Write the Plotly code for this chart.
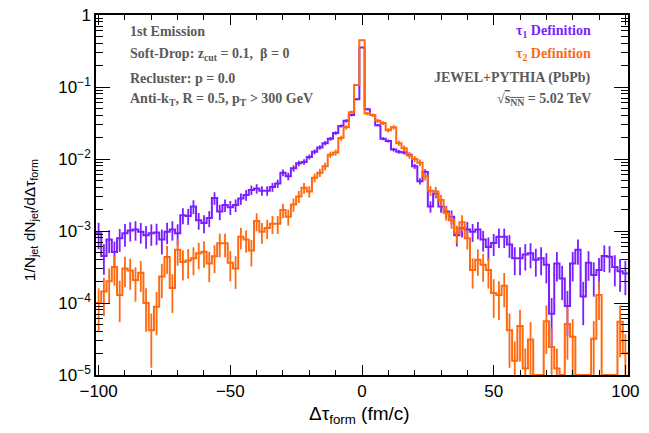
import plotly.graph_objects as go

# ---------------- data ----------------
bin_edges = list(range(-101, 102, 2))          # 101 bins of width 2 fm/c
bin_centers = list(range(-100, 101, 2))

tau1_values = [
    9.3e-4, 4.5e-4, 7.6e-4, 5.1e-4, 7.9e-4, 9.3e-4, 1.02e-3, 1.05e-3, 9.8e-4, 8.7e-4,
    9.3e-4, 9.5e-4, 7.6e-4, 9.8e-4, 1.05e-3, 9.3e-4, 1.66e-3, 1.62e-3, 2.19e-3, 1.41e-3,
    1.29e-3, 1.51e-3, 2.88e-3, 1.86e-3, 2.29e-3, 2.14e-3, 2.29e-3, 2.82e-3, 3.16e-3, 3.72e-3,
    3.89e-3, 3.63e-3, 3.63e-3, 4.07e-3, 4.57e-3, 6.46e-3, 5.75e-3, 7.41e-3, 8.71e-3, 9.12e-3,
    1.07e-2, 1.26e-2, 1.45e-2, 1.66e-2, 1.91e-2, 2.29e-2, 2.88e-2, 3.39e-2, 4.07e-2, 6.76e-2,
    0.355,
    4.90e-2, 4.07e-2, 2.95e-2, 1.91e-2, 1.78e-2, 1.35e-2, 1.26e-2, 1.23e-2, 1.15e-2, 7.9e-3,
    4.90e-3, 6.61e-3, 2.19e-3, 3.31e-3, 2.19e-3, 1.86e-3, 1.58e-3, 8.7e-4, 1.10e-3, 1.05e-3,
    9.8e-4, 1.05e-3, 7.6e-4, 6.0e-4, 6.8e-4, 8.3e-4, 8.3e-4, 6.5e-4, 4.2e-4, 4.2e-4,
    4.7e-4, 4.9e-4, 4.0e-4, 4.2e-4, 3.4e-4, 7.1e-5, 3.55e-4, 2.19e-4, 9.1e-5, 3.55e-4,
    5.5e-4, 1.23e-4, 3.63e-4, 2.45e-4, 2.88e-4, 4.5e-4, 4.4e-4, 3.16e-4, 2.75e-4, 2.57e-4,
]
tau1_relerr = [
    0.40, 0.45, 0.35, 0.40, 0.35, 0.35, 0.30, 0.30, 0.32, 0.35,
    0.33, 0.33, 0.38, 0.33, 0.30, 0.33, 0.25, 0.25, 0.22, 0.26,
    0.28, 0.25, 0.20, 0.24, 0.20, 0.22, 0.20, 0.18, 0.17, 0.15,
    0.15, 0.15, 0.15, 0.14, 0.13, 0.11, 0.12, 0.10, 0.09, 0.09,
    0.08, 0.08, 0.07, 0.07, 0.06, 0.06, 0.05, 0.05, 0.04, 0.03,
    0.015,
    0.03, 0.04, 0.04, 0.05, 0.05, 0.06, 0.06, 0.06, 0.07, 0.08,
    0.10, 0.09, 0.18, 0.14, 0.18, 0.20, 0.22, 0.30, 0.26, 0.27,
    0.28, 0.27, 0.32, 0.36, 0.34, 0.30, 0.30, 0.35, 0.42, 0.42,
    0.40, 0.38, 0.42, 0.42, 0.45, 0.65, 0.44, 0.50, 0.62, 0.44,
    0.38, 0.60, 0.44, 0.50, 0.47, 0.40, 0.40, 0.46, 0.48, 0.50,
]

tau2_values = [
    1.0e-4, 1.45e-4, 2.0e-4, 3.16e-4, 1.29e-4, 3.02e-4, 2.82e-4, 2.09e-4, 2.63e-4, 1.0e-4,
    4.2e-5, 8.9e-5, 2.34e-4, 4.37e-4, 1.62e-4, 5.5e-4, 3.72e-4, 3.89e-4, 4.17e-4, 4.90e-4,
    5.13e-4, 3.55e-4, 4.47e-4, 6.76e-4, 6.76e-4, 3.63e-4, 3.02e-4, 8.32e-4, 7.59e-4, 5.37e-4,
    1.38e-3, 9.8e-4, 1.10e-3, 1.26e-3, 1.26e-3, 1.95e-3, 1.58e-3, 2.34e-3, 3.02e-3, 3.98e-3,
    3.55e-3, 5.50e-3, 6.46e-3, 7.94e-3, 1.15e-2, 1.23e-2, 1.95e-2, 2.75e-2, 4.47e-2, 0.107,
    0.447,
    4.27e-2, 4.07e-2, 3.39e-2, 3.16e-2, 2.51e-2, 2.75e-2, 1.66e-2, 1.41e-2, 1.12e-2, 1.0e-2,
    8.9e-3, 5.75e-3, 3.63e-3, 3.55e-3, 2.69e-3, 1.78e-3, 1.41e-3, 9.3e-4, 1.32e-3, 7.9e-4,
    2.88e-4, 3.98e-4, 3.39e-4, 2.88e-4, 1.38e-4, 1.29e-4, 1.74e-4, 4.2e-5, 1.58e-5, 4.8e-5,
    1.23e-5, 3.1e-5, 0.0, 0.0, 5.6e-5, 2.45e-5, 1.23e-5, 0.0, 5.1e-5, 3.4e-5,
    0.0, 0.0, 0.0, 3.2e-5, 1.29e-4, 0.0, 0.0, 0.0, 5.5e-5, 2.0e-5,
]
tau2_relerr = [
    0.60, 0.55, 0.50, 0.45, 0.58, 0.45, 0.46, 0.50, 0.46, 0.60,
    0.70, 0.60, 0.50, 0.42, 0.55, 0.40, 0.45, 0.44, 0.42, 0.40,
    0.40, 0.45, 0.42, 0.36, 0.36, 0.45, 0.48, 0.33, 0.34, 0.40,
    0.28, 0.32, 0.30, 0.28, 0.28, 0.23, 0.25, 0.21, 0.19, 0.17,
    0.18, 0.14, 0.13, 0.12, 0.10, 0.10, 0.08, 0.07, 0.05, 0.03,
    0.012,
    0.05, 0.05, 0.06, 0.06, 0.07, 0.07, 0.08, 0.09, 0.10, 0.10,
    0.11, 0.13, 0.16, 0.16, 0.18, 0.22, 0.24, 0.28, 0.25, 0.30,
    0.45, 0.40, 0.42, 0.45, 0.55, 0.55, 0.50, 0.70, 0.85, 0.68,
    0.90, 0.75, 0.0, 0.0, 0.65, 0.80, 0.90, 0.0, 0.68, 0.75,
    0.0, 0.0, 0.0, 0.75, 0.55, 0.0, 0.0, 0.0, 0.68, 0.85,
]

y_tick_vals = [1e-5, 1e-4, 1e-3, 1e-2, 1e-1, 1]
y_tick_text = ["10<sup>\u22125</sup>", "10<sup>\u22124</sup>", "10<sup>\u22123</sup>",
               "10<sup>\u22122</sup>", "10<sup>\u22121</sup>", "1"]
x_tick_vals = [-100, -50, 0, 50, 100]
x_tick_text = ["\u2212100", "\u221250", "0", "50", "100"]

PURPLE = "#7a1fff"
ORANGE = "#ff690f"
GRAY = "#5a5a5a"
Y_FLOOR = 1e-5   # empty bins drawn on the lower frame, as ROOT does

fig = go.Figure()


def add_hist(vals, rel, color):
    ys = [max(v, Y_FLOOR) for v in vals]
    ys.append(ys[-1])
    fig.add_trace(go.Scatter(x=bin_edges, y=ys, mode="lines", line_shape="hv",
                             line=dict(color=color, width=2), hoverinfo="skip"))
    ey = [v if v > 0 else None for v in vals]
    ee = [v * r for v, r in zip(vals, rel)]
    fig.add_trace(go.Scatter(x=bin_centers, y=ey, mode="markers",
                             marker=dict(size=1, color=color),
                             error_y=dict(type="data", array=ee, visible=True,
                                          thickness=1.8, width=0, color=color),
                             hoverinfo="skip"))


add_hist(tau1_values, tau1_relerr, PURPLE)
add_hist(tau2_values, tau2_relerr, ORANGE)

minor_y = [m * 10.0 ** e for e in range(-5, 0) for m in range(2, 10)]

axis_font = dict(family="Liberation Sans, Arial, sans-serif", size=17, color="black")

fig.update_layout(
    width=649, height=433,
    margin=dict(l=96, r=21, t=15, b=58, autoexpand=False),
    paper_bgcolor="white", plot_bgcolor="white",
    showlegend=False,
    xaxis=dict(range=[-101, 101], tickvals=x_tick_vals, ticktext=x_tick_text,
               ticks="inside", ticklen=10, tickwidth=1, tickcolor="black",
               minor=dict(ticks="inside", dtick=10, tick0=0, ticklen=5, tickcolor="black"),
               showline=True, linecolor="black", linewidth=1.5, mirror="ticks",
               showgrid=False, zeroline=False, tickfont=axis_font, automargin=False),
    yaxis=dict(type="log", range=[-5, 0], tickvals=y_tick_vals, ticktext=y_tick_text,
               ticks="inside", ticklen=14, tickwidth=1, tickcolor="black",
               minor=dict(ticks="inside", tickvals=minor_y, ticklen=7, tickcolor="black"),
               showline=True, linecolor="black", linewidth=1.5, mirror="ticks",
               showgrid=False, zeroline=False, tickfont=axis_font, automargin=False),
)

serif = "Liberation Serif, Times New Roman, serif"
left_lines = [
    ("<b>1st Emission</b>", 0.953),
    ("<b>Soft-Drop: z<sub>cut</sub> = 0.1,  \u03b2 = 0</b>", 0.889),
    ("<b>Recluster: p = 0.0</b>", 0.825),
    ("<b>Anti-k<sub>T</sub>, R = 0.5, p<sub>T</sub> &gt; 300 GeV</b>", 0.764),
]
for txt, yy in left_lines:
    fig.add_annotation(text=txt, xref="paper", yref="paper", x=0.060, y=yy,
                       xanchor="left", yanchor="middle", showarrow=False,
                       font=dict(family=serif, size=14, color=GRAY))

right_lines = [
    ("<b>\u03c4<sub>1</sub> Definition</b>", 0.953, PURPLE),
    ("<b>\u03c4<sub>2</sub> Definition</b>", 0.889, ORANGE),
    ("<b>JEWEL+PYTHIA (PbPb)</b>", 0.825, GRAY),
    ("<b>\u221a<span style='text-decoration:overline'>s<sub>NN</sub></span> = 5.02 TeV</b>", 0.764, GRAY),
]
for txt, yy, col in right_lines:
    fig.add_annotation(text=txt, xref="paper", yref="paper", x=0.934, y=yy,
                       xanchor="right", yanchor="middle", showarrow=False,
                       font=dict(family=serif, size=14, color=col))

fig.add_annotation(text="1/N<sub>jet</sub> dN<sub>jet</sub>/d\u0394\u03c4<sub>form</sub>",
                   xref="paper", yref="paper", x=-0.124, y=0.43, textangle=-90,
                   xanchor="center", yanchor="middle", showarrow=False,
                   font=dict(family="Liberation Sans, Arial, sans-serif", size=15.5, color="black"))
fig.add_annotation(text="\u0394\u03c4<sub>form</sub> (fm/c)",
                   xref="paper", yref="paper", x=0.496, y=-0.11,
                   xanchor="center", yanchor="middle", showarrow=False,
                   font=dict(family="Liberation Sans, Arial, sans-serif", size=19, color="black"))

# remove the browser's default 8px page margin so the figure sits at the window origin
fig.write_html("out.html", config={"displayModeBar": False},
               post_script="document.body.style.margin='0px';")
